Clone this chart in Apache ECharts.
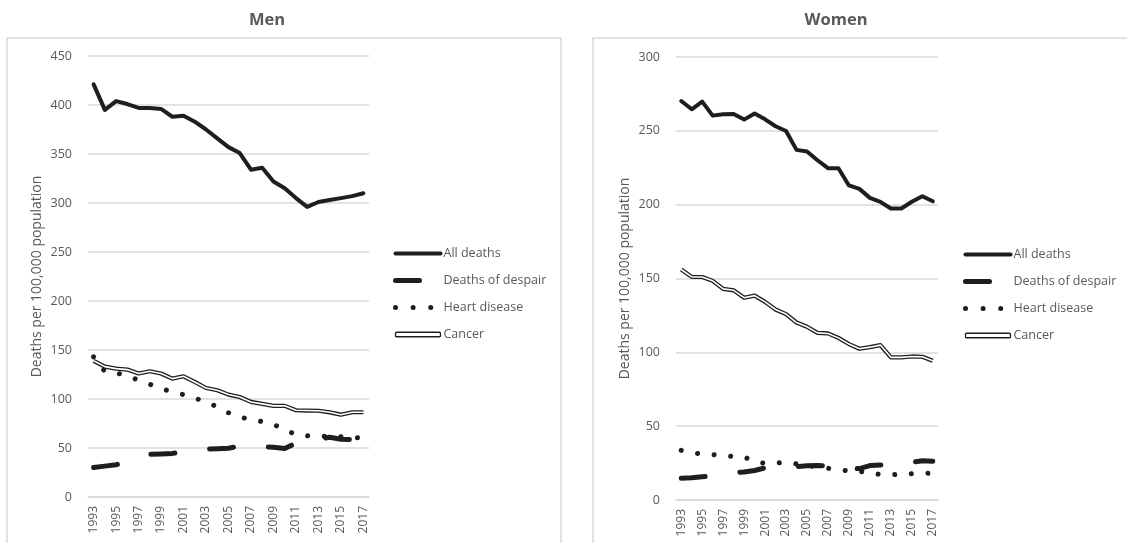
<!DOCTYPE html>
<html>
<head>
<meta charset="utf-8">
<script src="https://cdn.jsdelivr.net/npm/echarts@6/dist/echarts.min.js"></script>
<style>
html,body{margin:0;padding:0;background:#fff;}
#chart{width:1127px;height:543px;}
</style>
</head>
<body>
<div id="chart"></div>
<script>
const years = ['1993','1994','1995','1996','1997','1998','1999','2000','2001','2002','2003','2004','2005','2006','2007','2008','2009','2010','2011','2012','2013','2014','2015','2016','2017'];
const seriesNames = ['All deaths','Deaths of despair','Heart disease','Cancer'];
const panelTitles = ['Men','Women'];
const yAxisName = 'Deaths per 100,000 population';

const menAll = [421,395,404,401,397,397,396,388,389,383,375,366,357,351,334,336,322,315,305,296,301,303,305,307,310];
const menDespair = [30,31.5,33,36,40,43.5,44,44.5,46,47.5,49,49.3,49.8,52,52,51.5,50.8,49.5,55,57,59,61,59,58.5,59];
const menHeart = [143,128,126.5,124,119,115,111,107,104.5,101,97,92,86,82,78.5,77,74,69,63.5,62.5,62,62,61.5,61,60];
const menCancer = [139,133,131,130,126,128.3,126,120.8,123.2,117.4,111.2,108.9,104.5,102,97,95,93,93,88.5,88.2,88,86.4,84,86.5,86.5];

const womenAll = [270.2,264.6,269.8,260.3,261.2,261.4,257.6,261.7,257.8,253.1,249.9,237.1,236,230.1,224.7,224.7,213,210.7,204.6,201.9,197.4,197.4,202,205.7,202.3];
const womenDespair = [14.7,15,15.8,16.3,17,18.3,19,20,21.8,22.3,22.5,22.6,23.2,23.3,23,22.5,21.5,21.3,23.3,23.7,23.7,24.5,25.5,26.6,26.2];
const womenHeart = [33.6,32,31.2,30.8,30,29.4,29.2,26,24.8,25.1,25.3,24.5,23.5,22.3,21.5,20.5,19.8,19.4,18,17.4,17.1,17.4,17.8,18,18.2];
const womenCancer = [156.1,151.1,151,148.4,143,142,137,138.4,134.2,129,125.9,120.2,117.3,113.2,112.8,109.8,105.6,102.4,103.5,104.9,96.6,96.6,97.2,97,94.3];

const menMax = 450, womenMax = 300, yStep = 50;

const FONT = '"Open Sans", "Noto Sans", sans-serif';
const GRAY = '#595959';
const GRID = '#d9d9d9';
const INK = '#1e1e1e';

function xAxis(gi){
  return {
    type:'category', gridIndex:gi, data:years, boundaryGap:true,
    axisLine:{show:true, lineStyle:{color:GRID, width:1.5}},
    axisTick:{show:false},
    axisLabel:{interval:1, rotate:90, color:GRAY, fontSize:12, fontFamily:FONT, margin:9}
  };
}
function yAxis(gi, max){
  return {
    type:'value', gridIndex:gi, min:0, max:max, interval:yStep,
    name:yAxisName, nameLocation:'middle', nameGap:44,
    nameTextStyle:{color:GRAY, fontSize:14, fontFamily:FONT},
    axisLine:{show:false}, axisTick:{show:false},
    axisLabel:{color:GRAY, fontSize:12.5, fontFamily:FONT, margin:16},
    splitLine:{lineStyle:{color:GRID, width:1.5}}
  };
}
function panelSeries(gi, all, despair, heart, cancer){
  const base = {type:'line', xAxisIndex:gi, yAxisIndex:gi, symbol:'none', silent:true, animation:false};
  return [
    Object.assign({}, base, {name:seriesNames[0], data:all, z:5,
      lineStyle:{color:INK, width:4, join:'round', cap:'round'}, itemStyle:{color:INK}}),
    Object.assign({}, base, {name:seriesNames[1], data:despair, z:4,
      lineStyle:{color:INK, width:5, type:[24,35], cap:'round', join:'round'}, itemStyle:{color:INK}}),
    Object.assign({}, base, {name:seriesNames[2], data:heart, z:3,
      lineStyle:{color:INK, width:5, type:[0.01,16.6], cap:'round'}, itemStyle:{color:INK}}),
    Object.assign({}, base, {name:seriesNames[3], data:cancer, z:6,
      lineStyle:{color:INK, width:4.2, join:'round'}, itemStyle:{color:INK}}),
    Object.assign({}, base, {name:'Cancer inner', data:cancer, z:7,
      lineStyle:{color:'#ffffff', width:1.6, join:'round'}, itemStyle:{color:'#ffffff'}})
  ];
}
function legend(left, top){
  return {
    left:left, top:top, orient:'vertical', padding:0, itemWidth:45, itemHeight:4.5, itemGap:14,
    selectedMode:false,
    textStyle:{color:GRAY, fontSize:12.5, fontFamily:FONT, padding:[0,0,0,-2]},
    itemStyle:{opacity:0},
    data:[
      {name:seriesNames[0], lineStyle:{width:4, cap:'round'}},
      {name:seriesNames[1], lineStyle:{width:5, type:[24,40], cap:'round'}},
      {name:seriesNames[2], lineStyle:{width:5, type:[0.01,17.6], cap:'round'}},
      {name:seriesNames[3], icon:'roundRect', itemStyle:{color:'#ffffff', borderColor:INK, borderWidth:1.3, opacity:1}}
    ]
  };
}

const option = {
  backgroundColor:'#ffffff',
  animation:false,
  graphic:[
    {type:'rect', shape:{x:7, y:38, width:554, height:530}, style:{fill:'none', stroke:GRID, lineWidth:1.5}, silent:true},
    {type:'rect', shape:{x:593, y:38, width:600, height:530}, style:{fill:'none', stroke:GRID, lineWidth:1.5}, silent:true},
    {type:'text', x:267, y:20, style:{text:panelTitles[0], fill:GRAY, font:'bold 16.5px '+FONT, textAlign:'center', textVerticalAlign:'middle'}},
    {type:'text', x:836, y:20, style:{text:panelTitles[1], fill:GRAY, font:'bold 16.5px '+FONT, textAlign:'center', textVerticalAlign:'middle'}}
  ],
  grid:[
    {left:88, right:1127-369, top:56, bottom:543-497},
    {left:676, right:1127-938, top:57, bottom:543-500}
  ],
  xAxis:[xAxis(0), xAxis(1)],
  yAxis:[yAxis(0, menMax), yAxis(1, womenMax)],
  legend:[legend(393, 247), legend(963, 248)],
  series:[].concat(
    panelSeries(0, menAll, menDespair, menHeart, menCancer),
    panelSeries(1, womenAll, womenDespair, womenHeart, womenCancer)
  )
};

const chart = echarts.init(document.getElementById('chart'), null, {renderer:'canvas'});
chart.setOption(option);
</script>
</body>
</html>
